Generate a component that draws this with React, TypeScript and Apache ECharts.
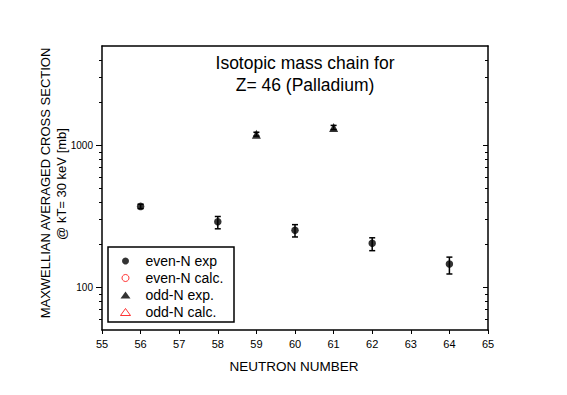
import React, { useEffect, useRef } from "react";
import * as echarts from "echarts";

// ---- data ----
const evenN = [56, 58, 60, 62, 64];
const evenSigma = [371, 289, 252, 204, 146];
const evenErrLow = [358, 258, 226, 181, 124];
const evenErrHigh = [384, 315, 276, 223, 163];

const oddN = [59, 61];
const oddSigma = [1196, 1334];
const oddErrLow = [1160, 1290];
const oddErrHigh = [1235, 1380];

const evenCalc: number[][] = [];
const oddCalc: number[][] = [];

const xTicks = [55, 56, 57, 58, 59, 60, 61, 62, 63, 64, 65];
const yMajorTicks = [100, 1000];
const yMinorTicks = [60, 70, 80, 90, 200, 300, 400, 500, 600, 700, 800, 900, 2000, 3000, 4000];

const titleLines = ["Isotopic mass chain for", "Z= 46 (Palladium)"];
const xTitle = "NEUTRON NUMBER";
const yTitleLines = ["MAXWELLIAN AVERAGED CROSS SECTION", "@ kT= 30 keV [mb]"];
const legendNames = ["even-N exp", "even-N calc.", "odd-N exp.", "odd-N calc."];

const FONT = "'Liberation Sans', Arial, sans-serif";

export default function App() {
  const ref = useRef<HTMLDivElement>(null);
  useEffect(() => {
    if (!ref.current) return;
    const chart = echarts.init(ref.current, null, { renderer: "svg" });

    const evenPts = evenN.map((n, i) => [n, evenSigma[i]]);
    const oddPts = oddN.map((n, i) => [n, oddSigma[i]]);
    const errData = [
      ...evenN.map((n, i) => [n, evenErrLow[i], evenErrHigh[i]]),
      ...oddN.map((n, i) => [n, oddErrLow[i], oddErrHigh[i]]),
    ];

    const yBase = { type: "log" as const, logBase: 10, min: 50, max: 5000 };
    const lineStyle = { color: "#000", width: 1.5 };

    const option: any = {
      animation: false,
      backgroundColor: "#fff",
      textStyle: { fontFamily: FONT },
      grid: { left: 102, right: 79, top: 46, bottom: 65, containLabel: false },
      xAxis: [
        {
          type: "value",
          min: xTicks[0],
          max: xTicks[xTicks.length - 1],
          interval: 1,
          position: "bottom",
          axisLine: { show: true, onZero: false, lineStyle },
          axisTick: { show: true, inside: false, length: 4, lineStyle: { color: "#000", width: 1 } },
          axisLabel: { show: true, color: "#000", fontSize: 11, margin: 8, fontFamily: FONT },
          splitLine: { show: false },
        },
        {
          type: "value",
          min: xTicks[0],
          max: xTicks[xTicks.length - 1],
          position: "top",
          axisLine: { show: true, onZero: false, lineStyle },
          axisTick: { show: false },
          axisLabel: { show: false },
          splitLine: { show: false },
        },
      ],
      yAxis: [
        {
          ...yBase,
          position: "left",
          axisLine: { show: true, lineStyle },
          axisTick: { show: true, inside: false, length: 6, customValues: yMajorTicks, lineStyle: { color: "#000", width: 1 } },
          axisLabel: {
            show: true,
            customValues: yMajorTicks,
            formatter: (v: number) => String(Math.round(v)),
            color: "#000",
            fontSize: 10,
            margin: 9,
            fontFamily: FONT,
          },
          splitLine: { show: false },
          minorTick: { show: false },
        },
        {
          ...yBase,
          position: "left",
          axisLine: { show: false },
          axisTick: { show: true, inside: false, length: 3, customValues: yMinorTicks, lineStyle: { color: "#000", width: 1 } },
          axisLabel: { show: false },
          splitLine: { show: false },
        },
        {
          ...yBase,
          position: "right",
          axisLine: { show: true, lineStyle },
          axisTick: { show: true, inside: true, length: 5, customValues: yMajorTicks, lineStyle: { color: "#000", width: 1 } },
          axisLabel: { show: false },
          splitLine: { show: false },
        },
        {
          ...yBase,
          position: "right",
          axisLine: { show: false },
          axisTick: { show: true, inside: true, length: 3, customValues: yMinorTicks, lineStyle: { color: "#000", width: 1 } },
          axisLabel: { show: false },
          splitLine: { show: false },
        },
      ],
      legend: {
        orient: "vertical",
        left: 120,
        top: 253,
        padding: 0,
        itemWidth: 10,
        itemHeight: 7,
        itemGap: 1,
        symbolKeepAspect: true,
        textStyle: { color: "#000", fontSize: 14, lineHeight: 16, fontFamily: FONT, padding: [0, 0, 0, 10] },
        data: [
          { name: legendNames[0], icon: "circle", itemStyle: { color: "#000", borderWidth: 0 } },
          { name: legendNames[1], icon: "circle", itemStyle: { color: "#fff", borderColor: "#f00", borderWidth: 1 } },
          { name: legendNames[2], icon: "triangle", itemStyle: { color: "#000", borderWidth: 0 } },
          { name: legendNames[3], icon: "triangle", itemStyle: { color: "#fff", borderColor: "#f00", borderWidth: 1 } },
        ],
      },
      graphic: [
        {
          type: "rect",
          shape: { x: 108, y: 247, width: 126, height: 75 },
          style: { fill: "none", stroke: "#000", lineWidth: 1.5 },
          z: 1,
        },
        {
          type: "text",
          x: 305,
          y: 63,
          style: { text: titleLines[0], align: "center", verticalAlign: "middle", fontSize: 17.5, fontFamily: FONT, fill: "#000" },
        },
        {
          type: "text",
          x: 305,
          y: 85,
          style: { text: titleLines[1], align: "center", verticalAlign: "middle", fontSize: 17.5, fontFamily: FONT, fill: "#000" },
        },
        {
          type: "text",
          x: 294,
          y: 366,
          style: { text: xTitle, align: "center", verticalAlign: "middle", fontSize: 13.5, fontFamily: FONT, fill: "#000" },
        },
        {
          type: "text",
          x: 45.5,
          y: 183,
          rotation: Math.PI / 2,
          style: { text: yTitleLines[0], align: "center", verticalAlign: "middle", fontSize: 13, fontFamily: FONT, fill: "#000" },
        },
        {
          type: "text",
          x: 61,
          y: 184,
          rotation: Math.PI / 2,
          style: { text: yTitleLines[1], align: "center", verticalAlign: "middle", fontSize: 13, fontFamily: FONT, fill: "#000" },
        },
      ],
      series: [
        {
          name: "errors",
          type: "custom",
          xAxisIndex: 0,
          yAxisIndex: 0,
          data: errData,
          encode: { x: 0, y: [1, 2] },
          z: 3,
          renderItem: (params: any, api: any) => {
            const x = api.value(0);
            const lo = api.coord([x, api.value(1)]);
            const hi = api.coord([x, api.value(2)]);
            const w = 3;
            const st = { stroke: "#000", lineWidth: 1.5 };
            return {
              type: "group",
              children: [
                { type: "line", shape: { x1: lo[0], y1: lo[1], x2: hi[0], y2: hi[1] }, style: st },
                { type: "line", shape: { x1: lo[0] - w, y1: lo[1], x2: lo[0] + w, y2: lo[1] }, style: st },
                { type: "line", shape: { x1: hi[0] - w, y1: hi[1], x2: hi[0] + w, y2: hi[1] }, style: st },
              ],
            };
          },
        },
        {
          name: legendNames[0],
          type: "scatter",
          symbol: "circle",
          symbolSize: 7.5,
          itemStyle: { color: "#000" },
          data: evenPts,
          z: 4,
        },
        {
          name: legendNames[1],
          type: "scatter",
          symbol: "circle",
          symbolSize: 7,
          itemStyle: { color: "#fff", borderColor: "#f00", borderWidth: 1 },
          data: evenCalc,
        },
        {
          name: legendNames[2],
          type: "scatter",
          symbol: "triangle",
          symbolSize: 9,
          itemStyle: { color: "#000" },
          data: oddPts,
          z: 4,
        },
        {
          name: legendNames[3],
          type: "scatter",
          symbol: "triangle",
          symbolSize: 9,
          itemStyle: { color: "#fff", borderColor: "#f00", borderWidth: 1 },
          data: oddCalc,
        },
      ],
    };

    chart.setOption(option);
    return () => chart.dispose();
  }, []);

  return (
    <div
      ref={ref}
      style={{ position: "absolute", left: 0, top: 0, width: 567, height: 395, background: "#fff" }}
    />
  );
}
